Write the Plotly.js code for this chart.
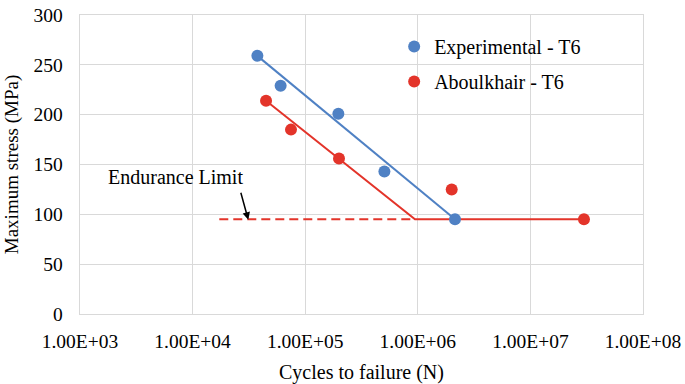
<!DOCTYPE html>
<html>
<head>
<meta charset="utf-8">
<script src="https://cdn.plot.ly/plotly-3.0.1.min.js"></script>
<style>html,body{margin:0;padding:0;background:#fff;}#chart{width:685px;height:384px;}</style>
</head>
<body>
<div id="chart"></div>
<script>
// Experimental - T6 data
var expN = [37600, 60500, 197000, 505000, 2140000];
var expS = [259, 229, 201, 143, 95];
// Aboulkhair - T6 data
var abN = [44900, 74800, 199600, 2000000, 29900000];
var abS = [214, 185, 156, 125, 95];
// Trend lines
var expFitN = [37600, 2140000];
var expFitS = [259, 95];
var abFitN = [44900, 944000, 29900000];
var abFitS = [214, 95, 95];
// Endurance limit (dashed extension)
var limN = [17260, 944000];
var limS = [95, 95];
// Axis ticks
var xTickVals = [1e3, 1e4, 1e5, 1e6, 1e7, 1e8];
var xTickText = ['1.00E+03', '1.00E+04', '1.00E+05', '1.00E+06', '1.00E+07', '1.00E+08'];
var yTickVals = [0, 50, 100, 150, 200, 250, 300];
var seriesNames = ['Experimental - T6', 'Aboulkhair - T6'];
var annotText = 'Endurance Limit';

var blue = '#4F81C4';
var red = '#E3342A';
var FONT = 'Liberation Serif, Times New Roman, serif';

var traces = [
  {x: limN, y: limS, mode: 'lines', line: {color: red, width: 2, dash: '9px,5px'}, showlegend: false, hoverinfo: 'skip'},
  {x: abFitN, y: abFitS, mode: 'lines', line: {color: red, width: 2}, showlegend: false, hoverinfo: 'skip'},
  {x: expFitN, y: expFitS, mode: 'lines', line: {color: blue, width: 2}, showlegend: false, hoverinfo: 'skip'},
  {x: expN, y: expS, mode: 'markers', name: seriesNames[0], legendgroup: 'a', legendrank: 1, marker: {color: blue, size: 12}},
  {x: abN, y: abS, mode: 'markers', name: seriesNames[1], legendgroup: 'b', legendrank: 2, marker: {color: red, size: 12}}
];

var layout = {
  width: 685, height: 384,
  margin: {l: 80, r: 42, t: 15, b: 70, pad: 0},
  paper_bgcolor: '#fff', plot_bgcolor: '#fff',
  font: {family: FONT, size: 19.5, color: '#000'},
  xaxis: {
    type: 'log', range: [3, 8],
    tickvals: xTickVals, ticktext: xTickText,
    showgrid: true, gridcolor: '#D9D9D9', gridwidth: 1.3,
    showline: true, mirror: true, linecolor: '#D9D9D9', linewidth: 1.3,
    ticks: '', ticklabelstandoff: 9, zeroline: false,
    tickfont: {family: FONT, size: 19.5, color: '#000'},
    title: {text: 'Cycles to failure (N)', font: {family: FONT, size: 20, color: '#000'}, standoff: 15}
  },
  yaxis: {
    range: [0, 300], tickvals: yTickVals,
    showgrid: true, gridcolor: '#D9D9D9', gridwidth: 1.3,
    showline: true, mirror: true, linecolor: '#D9D9D9', linewidth: 1.3,
    ticks: '', ticklabelstandoff: 12, zeroline: false,
    tickfont: {family: FONT, size: 19.5, color: '#000'},
    title: {text: 'Maximum stress (MPa)', font: {family: FONT, size: 19, color: '#000'}, standoff: 10}
  },
  legend: {
    x: 0.558, y: 0.96, xanchor: 'left', yanchor: 'top',
    bgcolor: 'rgba(0,0,0,0)', borderwidth: 0,
    traceorder: 'grouped', tracegroupgap: 6,
    font: {family: FONT, size: 20, color: '#000'}, itemwidth: 30
  },
  annotations: [
    {x: 3.844, y: 137.4, xref: 'x', yref: 'y', text: annotText, showarrow: false, font: {family: FONT, size: 20, color: '#000'}},
    {x: 4.4947, y: 94.5, xref: 'x', yref: 'y', text: ' ', font: {size: 1},
     showarrow: true, ax: -8, ay: -29, arrowhead: 2, arrowsize: 1, arrowwidth: 1.5, arrowcolor: '#000'}
  ],
  showlegend: true
};

Plotly.newPlot('chart', traces, layout, {displayModeBar: false, staticPlot: true});
</script>
</body>
</html>
